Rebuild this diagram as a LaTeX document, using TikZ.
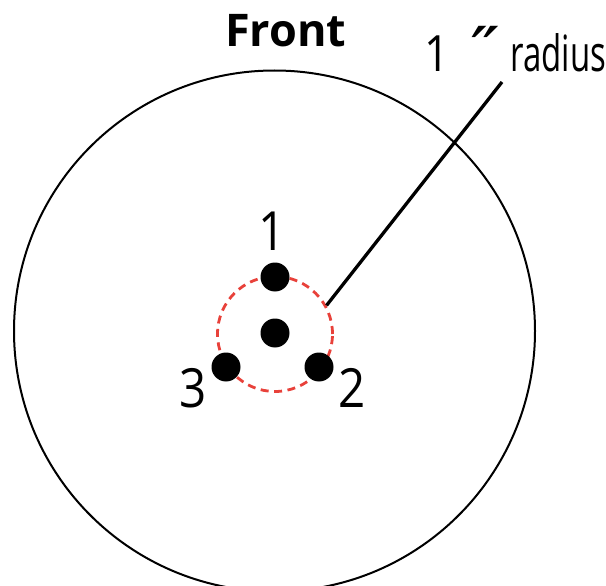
\documentclass[tikz,border=0pt]{standalone}
\usepackage{fontspec}
\setmainfont{Open Sans}
\newfontfamily\radfont[FakeStretch=0.66]{Open Sans}
\newfontfamily\primefont[FakeStretch=1.3]{DejaVu Sans}
\newfontfamily\digfont[FakeStretch=0.88]{Open Sans}
\begin{document}
\begin{tikzpicture}[x=1pt,y=-1pt,
  dot/.style={circle,fill=black,inner sep=0pt,minimum size=29pt},
  digit/.style={font=\digfont\fontsize{54}{60}\selectfont,inner sep=0pt,anchor=base},
  ringstyle/.style={circle,draw=ringred,dash pattern=on 8pt off 5.5pt,line width=2.8pt,inner sep=0pt,minimum size=115pt}]
\definecolor{ringred}{HTML}{E8413A}
\useasboundingbox (0,0) rectangle (606,586);
\node[circle,draw=black,line width=2pt,inner sep=0pt,minimum size=521pt] (outer) at (274.5,331) {};
\node[ringstyle] (ring) at (275,334) {};
\node[dot] (center) at (275,333) {};
\node[dot] (d1) at (275,277) {};
\node[dot] (d2) at (319,367) {};
\node[dot] (d3) at (226,367) {};
\node[digit] (l1) at (272,250) {1};
\node[digit] (l2) at (352,407) {2};
\node[digit] (l3) at (193.5,407) {3};
\node[font=\bfseries\fontsize{45}{50}\selectfont,inner sep=0pt,anchor=base west] (front) at (225,47) {Front};
\node[font=\fontsize{50}{54}\selectfont,inner sep=0pt,anchor=base west] (rad) at (424,72) {{\digfont 1}\hspace{21pt}{\primefont\fontsize{62}{70}\selectfont ″}\hspace{10pt}{\radfont radius}};
\coordinate (lead) at (502,82);
\draw[line width=3.3pt] (ring.29) -- (lead);
\end{tikzpicture}
\end{document}
